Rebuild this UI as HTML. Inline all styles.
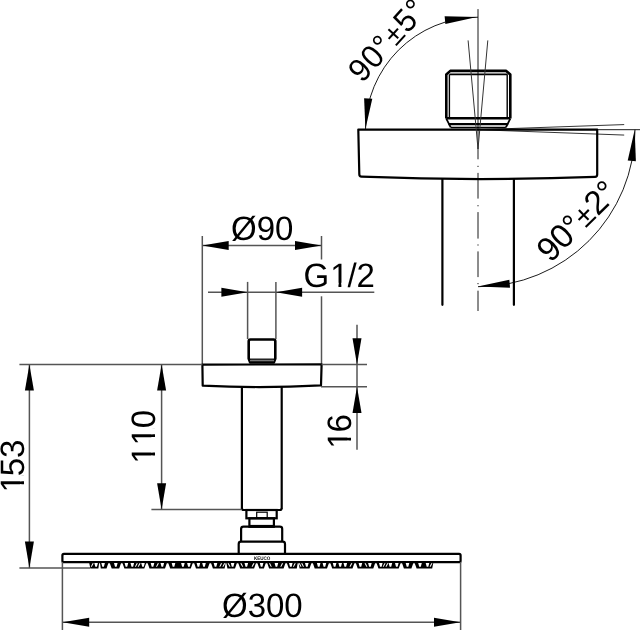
<!DOCTYPE html>
<html><head><meta charset="utf-8"><style>
html,body{margin:0;padding:0;background:#fff;width:640px;height:630px;overflow:hidden}
svg{display:block;will-change:transform}
text{font-family:"Liberation Sans",sans-serif;fill:#000;font-kerning:none;text-rendering:geometricPrecision}
</style></head><body>
<svg width="640" height="630" viewBox="0 0 640 630">
<defs><clipPath id="c1"><path d="M-2000,-2000 H2000 V2000 H-2000 Z M27.72,-3.77 H35.05 V1.50 H27.72 Z M37.97,-3.77 H43.92 V1.50 H37.97 Z" clip-rule="evenodd"/></clipPath><clipPath id="c2"><path d="M-2000,-2000 H2000 V2000 H-2000 Z M-24.37,-3.77 H-17.04 V1.50 H-24.37 Z M-14.12,-3.77 H-8.18 V1.50 H-14.12 Z" clip-rule="evenodd"/></clipPath><clipPath id="c3"><path d="M-2000,-2000 H2000 V2000 H-2000 Z M-25.48,-3.77 H-18.14 V1.50 H-25.48 Z M-15.23,-3.77 H-9.28 V1.50 H-15.23 Z M-7.12,-3.77 H0.21 V1.50 H-7.12 Z M3.13,-3.77 H9.07 V1.50 H3.13 Z" clip-rule="evenodd"/></clipPath><clipPath id="c4"><path d="M-2000,-2000 H2000 V2000 H-2000 Z M-15.30,-3.77 H-7.97 V1.50 H-15.30 Z M-5.05,-3.77 H0.89 V1.50 H-5.05 Z" clip-rule="evenodd"/></clipPath></defs>
<line x1="202.3" y1="236" x2="202.3" y2="364.6" stroke="#555" stroke-width="1.5" />
<line x1="321.5" y1="236" x2="321.5" y2="259.5" stroke="#555" stroke-width="1.5" />
<line x1="321.5" y1="296.3" x2="321.5" y2="364.6" stroke="#555" stroke-width="1.5" />
<line x1="202.3" y1="245.5" x2="321.5" y2="245.5" stroke="#555" stroke-width="1.5" />
<path d="M202.30,245.50 L228.70,241.00 L228.70,250.00 Z" fill="#000"/>
<path d="M321.50,245.50 L295.00,250.00 L295.00,241.00 Z" fill="#000"/>
<text transform="translate(231.00,240.00) scale(1,1.025)" x="0.00 25.67 44.02" y="0" font-size="33">Ø90</text>
<line x1="247.6" y1="281.9" x2="247.6" y2="339" stroke="#555" stroke-width="1.5" />
<line x1="275.9" y1="281.9" x2="275.9" y2="339" stroke="#555" stroke-width="1.5" />
<line x1="208" y1="292.2" x2="374.3" y2="292.2" stroke="#555" stroke-width="1.5" />
<path d="M247.60,292.20 L221.40,296.70 L221.40,287.70 Z" fill="#000"/>
<path d="M275.90,292.20 L302.10,287.70 L302.10,296.70 Z" fill="#000"/>
<text transform="translate(303.40,286.50) scale(1,1.025)" x="0.00 26.76 44.02 53.19" y="0" font-size="33" clip-path="url(#c1)">G1/2</text>
<path d="M248.7,358.6 L248.7,341.2 Q248.7,339.5 250.4,339.5 L273.6,339.5 Q275.3,339.5 275.3,341.2 L275.3,358.6 L273.9,362.4 L250.1,362.4 Z" fill="none" stroke="#000" stroke-width="2.6" stroke-linejoin="round"/>
<rect x="250" y="359.8" width="24" height="1.5" fill="#777"/>
<line x1="249.5" y1="359.2" x2="274.5" y2="359.2" stroke="#000" stroke-width="1.3" />
<path d="M202.4,364.6 L321.6,364.4 L321,385.4 Q262,388.5 202.7,385.7 Z" fill="none" stroke="#000" stroke-width="2.2" stroke-linejoin="round"/>
<line x1="241.9" y1="387" x2="241.9" y2="508.5" stroke="#000" stroke-width="2.2" />
<line x1="281.7" y1="387" x2="281.7" y2="508.5" stroke="#000" stroke-width="2.2" />
<path d="M241.9,508 Q241.9,510 243.7,510 L279.9,510 Q281.7,510 281.7,508" fill="none" stroke="#000" stroke-width="2.2"/>
<rect x="246.4" y="510" width="30.3" height="8.3" fill="none" stroke="#000" stroke-width="2.2"/>
<rect x="256.7" y="512.2" width="10.5" height="5.6" fill="none" stroke="#000" stroke-width="1.2"/>
<rect x="249.4" y="518.3" width="24.5" height="8.4" fill="none" stroke="#000" stroke-width="2.2"/>
<line x1="249.4" y1="526.2" x2="273.9" y2="526.2" stroke="#000" stroke-width="2.6" />
<path d="M241.1,541.7 L241.1,529 Q241.1,526.7 243.5,526.7 L279.8,526.7 Q282.2,526.7 282.2,529 L282.2,541.7" fill="none" stroke="#000" stroke-width="2.2"/>
<path d="M238.7,553.9 L238.7,544 Q238.7,541.7 241,541.7 L282.7,541.7 Q285,541.7 285,544 L285,553.9" fill="none" stroke="#000" stroke-width="2.2"/>
<rect x="62.4" y="553.9" width="398.2" height="8.3" rx="1.5" fill="none" stroke="#000" stroke-width="2.2"/>
<text transform="translate(253.9,560.3) scale(1,1.1)" x="0" y="0" font-size="4.7" font-weight="bold" textLength="16.4" lengthAdjust="spacingAndGlyphs">KEUCO</text>
<line x1="19.4" y1="364.6" x2="202.4" y2="364.6" stroke="#555" stroke-width="1.5" />
<line x1="19.4" y1="568.1" x2="90" y2="568.1" stroke="#555" stroke-width="1.5" />
<line x1="29.4" y1="364.6" x2="29.4" y2="568.1" stroke="#555" stroke-width="1.5" />
<path d="M29.40,364.60 L33.90,390.50 L24.90,390.50 Z" fill="#000"/>
<path d="M29.40,568.10 L24.90,541.40 L33.90,541.40 Z" fill="#000"/>
<text transform="translate(23.80,467.20) rotate(-90) scale(1,1.025)" x="-25.34 -9.18 9.18" y="0" font-size="33" clip-path="url(#c2)">153</text>
<line x1="151.4" y1="509.5" x2="241.7" y2="509.5" stroke="#555" stroke-width="1.5" />
<line x1="161.6" y1="364.6" x2="161.6" y2="509.5" stroke="#555" stroke-width="1.5" />
<path d="M161.60,364.60 L166.10,390.50 L157.10,390.50 Z" fill="#000"/>
<path d="M161.60,509.50 L157.10,483.20 L166.10,483.20 Z" fill="#000"/>
<text transform="translate(155.20,437.30) rotate(-90) scale(1,1.025)" x="-26.44 -8.09 9.18" y="0" font-size="33" clip-path="url(#c3)">110</text>
<line x1="321.6" y1="364.6" x2="367" y2="364.6" stroke="#555" stroke-width="1.5" />
<line x1="321" y1="386.7" x2="367" y2="386.7" stroke="#555" stroke-width="1.5" />
<line x1="357" y1="324.8" x2="357" y2="449.7" stroke="#555" stroke-width="1.5" />
<path d="M357.00,364.50 L352.50,338.30 L361.50,338.30 Z" fill="#000"/>
<path d="M357.00,386.70 L361.50,412.90 L352.50,412.90 Z" fill="#000"/>
<text transform="translate(351.30,432.60) rotate(-90) scale(1,1.025)" x="-16.27 0.00" y="0" font-size="33" clip-path="url(#c4)">16</text>
<line x1="62.4" y1="562" x2="62.4" y2="630" stroke="#555" stroke-width="1.5" />
<line x1="460.6" y1="562" x2="460.6" y2="630" stroke="#555" stroke-width="1.5" />
<line x1="62.4" y1="622.3" x2="460.6" y2="622.3" stroke="#555" stroke-width="1.5" />
<path d="M62.60,622.30 L89.20,617.80 L89.20,626.80 Z" fill="#000"/>
<path d="M460.40,622.30 L434.00,626.80 L434.00,617.80 Z" fill="#000"/>
<text transform="translate(222.00,616.70) scale(1,1.025)" x="0.00 25.67 44.02 62.37" y="0" font-size="33">Ø300</text>
<path d="M89.0,561.8 L99.3,561.8 L98.4,568.4 L90.3,568.4 Z M99.8,561.8 L108.8,561.8 L106.5,568.4 L100.8,568.4 Z M109.3,561.8 L121.5,561.8 L119.2,568.4 L111.7,568.4 Z M122.0,561.8 L146.7,561.8 L144.3,568.4 L124.4,568.4 Z M147.2,561.8 L167.3,561.8 L165.0,568.4 L149.5,568.4 Z M167.8,561.8 L193.2,561.8 L190.8,568.4 L170.2,568.4 Z M193.7,561.8 L210.1,561.8 L207.7,568.4 L196.0,568.4 Z M210.6,561.8 L225.8,561.8 L224.6,568.4 L212.9,568.4 Z M226.2,561.8 L237.3,561.8 L235.0,568.4 L227.4,568.4 Z M237.8,561.8 L256.4,561.8 L254.1,568.4 L240.2,568.4 Z M256.9,561.8 L266.2,561.8 L263.9,568.4 L259.3,568.4 Z M266.8,561.8 L285.9,561.8 L283.6,568.4 L269.1,568.4 Z M286.4,561.8 L297.9,561.8 L296.8,568.4 L288.8,568.4 Z M298.4,561.8 L311.9,561.8 L309.5,568.4 L299.6,568.4 Z M312.4,561.8 L329.4,561.8 L327.0,568.4 L314.7,568.4 Z M329.9,561.8 L354.9,561.8 L352.5,568.4 L332.2,568.4 Z M355.4,561.8 L375.6,561.8 L373.3,568.4 L357.7,568.4 Z M376.1,561.8 L401.1,561.8 L398.7,568.4 L378.5,568.4 Z M401.6,561.8 L413.8,561.8 L411.4,568.4 L403.9,568.4 Z M414.2,561.8 L433.5,561.8 L432.2,568.4 L416.6,568.4 Z " fill="#000"/>
<path d="M94.3,563.1 L97.9,563.1 L96.9,566.8 L95.3,566.8 Z M101.3,563.1 L104.9,563.1 L103.9,566.8 L102.3,566.8 Z M114.0,563.1 L117.6,563.1 L116.6,566.8 L115.0,566.8 Z M124.6,563.1 L128.2,563.1 L127.2,566.8 L125.6,566.8 Z M130.5,563.1 L134.1,563.1 L133.1,566.8 L131.5,566.8 Z M141.2,563.1 L144.8,563.1 L143.8,566.8 L142.2,566.8 Z M150.7,563.1 L154.3,563.1 L153.3,566.8 L151.7,566.8 Z M160.5,563.1 L164.1,563.1 L163.1,566.8 L161.5,566.8 Z M171.7,563.1 L175.3,563.1 L174.3,566.8 L172.7,566.8 Z M181.1,563.1 L184.7,563.1 L183.7,566.8 L182.1,566.8 Z M187.1,563.1 L190.7,563.1 L189.7,566.8 L188.1,566.8 Z M196.6,563.1 L200.2,563.1 L199.2,566.8 L197.6,566.8 Z M202.2,563.1 L205.8,563.1 L204.8,566.8 L203.2,566.8 Z M213.7,563.1 L217.3,563.1 L216.3,566.8 L214.7,566.8 Z M230.8,563.1 L234.4,563.1 L233.4,566.8 L231.8,566.8 Z M244.5,563.1 L248.1,563.1 L247.1,566.8 L245.5,566.8 Z M259.8,563.1 L263.4,563.1 L262.4,566.8 L260.8,566.8 Z M274.6,563.1 L278.2,563.1 L277.2,566.8 L275.6,566.8 Z M289.0,563.1 L292.6,563.1 L291.6,566.8 L290.0,566.8 Z M305.0,563.1 L308.6,563.1 L307.6,566.8 L306.0,566.8 Z M316.9,563.1 L320.5,563.1 L319.5,566.8 L317.9,566.8 Z M322.6,563.1 L326.2,563.1 L325.2,566.8 L323.6,566.8 Z M332.8,563.1 L336.4,563.1 L335.4,566.8 L333.8,566.8 Z M338.4,563.1 L342.0,563.1 L341.0,566.8 L339.4,566.8 Z M343.5,563.1 L347.1,563.1 L346.1,566.8 L344.5,566.8 Z M358.6,563.1 L362.2,563.1 L361.2,566.8 L359.6,566.8 Z M368.1,563.1 L371.7,563.1 L370.7,566.8 L369.1,566.8 Z M379.0,563.1 L382.6,563.1 L381.6,566.8 L380.0,566.8 Z M388.6,563.1 L392.2,563.1 L391.2,566.8 L389.6,566.8 Z M395.0,563.1 L398.6,563.1 L397.6,566.8 L396.0,566.8 Z M405.7,563.1 L409.3,563.1 L408.3,566.8 L406.7,566.8 Z M418.2,563.1 L421.8,563.1 L420.8,566.8 L419.2,566.8 Z M425.7,563.1 L429.3,563.1 L428.3,566.8 L426.7,566.8 Z M92.5,563.2 L93.8,563.2 L91.8,566.7 L90.8,566.7 Z M136.6,563.2 L137.9,563.2 L135.9,566.7 L134.9,566.7 Z M139.3,563.2 L140.7,563.2 L138.7,566.7 L137.7,566.7 Z M157.7,563.2 L159.0,563.2 L157.0,566.7 L156.0,566.7 Z M220.9,563.2 L222.2,563.2 L220.3,566.7 L219.3,566.7 Z M224.1,563.2 L225.4,563.2 L223.4,566.7 L222.4,566.7 Z M227.5,563.2 L228.8,563.2 L230.5,566.7 L229.5,566.7 Z M240.2,563.2 L241.6,563.2 L243.2,566.7 L242.2,566.7 Z M253.2,563.2 L254.6,563.2 L252.6,566.7 L251.6,566.7 Z M268.9,563.2 L270.1,563.2 L271.8,566.7 L270.8,566.7 Z M281.9,563.2 L283.2,563.2 L281.3,566.7 L280.3,566.7 Z M294.6,563.2 L295.8,563.2 L293.9,566.7 L292.9,566.7 Z M298.6,563.2 L299.9,563.2 L301.5,566.7 L300.5,566.7 Z M301.1,563.2 L302.4,563.2 L304.0,566.7 L303.0,566.7 Z M351.1,563.2 L352.4,563.2 L350.5,566.7 L349.5,566.7 Z M364.5,563.2 L365.8,563.2 L367.4,566.7 L366.4,566.7 Z M384.4,563.2 L385.6,563.2 L383.7,566.7 L382.7,566.7 Z M387.1,563.2 L388.4,563.2 L386.5,566.7 L385.5,566.7 Z M431.2,563.2 L432.5,563.2 L430.6,566.7 L429.6,566.7 Z " fill="#fff"/>
<line x1="478.0" y1="9.1" x2="478.0" y2="159.3" stroke="#000" stroke-width="0.9" />
<line x1="478.0" y1="172.9" x2="478.0" y2="198.6" stroke="#000" stroke-width="0.9" />
<line x1="478.0" y1="212.1" x2="478.0" y2="238.6" stroke="#000" stroke-width="0.9" />
<line x1="478.0" y1="251.4" x2="478.0" y2="277.1" stroke="#000" stroke-width="0.9" />
<line x1="478.0" y1="290.7" x2="478.0" y2="311" stroke="#000" stroke-width="0.9" />
<line x1="478.0" y1="165.8" x2="478.0" y2="167.0" stroke="#000" stroke-width="0.9" />
<line x1="478.0" y1="205.1" x2="478.0" y2="206.29999999999998" stroke="#000" stroke-width="0.9" />
<line x1="478.0" y1="244.4" x2="478.0" y2="245.6" stroke="#000" stroke-width="0.9" />
<line x1="478.0" y1="283.0" x2="478.0" y2="284.20000000000005" stroke="#000" stroke-width="0.9" />
<path d="M358.3,129.6 L597.2,129.7 L597.2,174.5 Q597.2,176.8 595,176.85 Q477.9,181.3 361.5,176.65 Q359.3,176.6 359.3,174.3 Z" fill="none" stroke="#000" stroke-width="2.2" stroke-linejoin="round"/>
<line x1="442.4" y1="179" x2="442.4" y2="304.8" stroke="#000" stroke-width="2.2" stroke-linecap="round"/>
<line x1="513.9" y1="179" x2="513.9" y2="304.8" stroke="#000" stroke-width="2.2" stroke-linecap="round"/>
<path d="M446.3,118.6 L446.3,74.5 L450.3,70.9 L506.2,70.9 L510.3,74.5 L510.3,118.6" fill="none" stroke="#000" stroke-width="2.6" stroke-linejoin="round"/>
<path d="M446.3,118.6 L450.7,127.3 M510.3,118.6 L505.9,127.3" fill="none" stroke="#000" stroke-width="1.8"/>
<line x1="449.5" y1="74.3" x2="507.2" y2="74.3" stroke="#000" stroke-width="1.8" />
<line x1="449.4" y1="74.3" x2="449.4" y2="118.6" stroke="#000" stroke-width="1.4" />
<line x1="507.2" y1="74.3" x2="507.2" y2="118.6" stroke="#000" stroke-width="1.4" />
<line x1="446.3" y1="118.3" x2="510.3" y2="118.3" stroke="#000" stroke-width="2.4" />
<line x1="448.5" y1="124.1" x2="508.2" y2="124.1" stroke="#000" stroke-width="2.4" />
<line x1="450.7" y1="127.4" x2="505.9" y2="127.4" stroke="#000" stroke-width="1.5" />
<line x1="468.1" y1="40.4" x2="478.0" y2="149" stroke="#333" stroke-width="1.0" />
<line x1="487.8" y1="40.4" x2="478.0" y2="149" stroke="#333" stroke-width="1.0" />
<line x1="478.0" y1="129.7" x2="624.2" y2="124.5910914233573" stroke="#000" stroke-width="0.8" />
<line x1="478.0" y1="129.7" x2="624.2" y2="135.06435400547483" stroke="#000" stroke-width="0.8" />
<line x1="597" y1="129.7" x2="640" y2="129.7" stroke="#000" stroke-width="0.9" />
<path d="M365.5,129.7 A112.5,112.5 0 0 1 478.0,17.19999999999999" fill="none" stroke="#000" stroke-width="0.9"/>
<path d="M635.0,129.7 A157,157 0 0 1 478.0,286.7" fill="none" stroke="#000" stroke-width="0.9"/>
<path d="M477.00,17.10 L445.36,23.98 L444.64,16.22 Z" fill="#000"/>
<path d="M365.40,129.20 L364.12,98.13 L372.28,98.87 Z" fill="#000"/>
<path d="M634.70,129.70 L635.88,161.18 L627.72,160.42 Z" fill="#000"/>
<path d="M477.70,286.40 L509.36,279.71 L510.04,287.69 Z" fill="#000"/>
<text transform="translate(362.25,83.80) rotate(-47.7) scale(1,1.025)" x="0.00 18.07 36.14 50.11 67.12 85.19" y="0" font-size="31.5">90°<tspan font-size="28.5">±</tspan>5°</text>
<text transform="translate(550.40,263.50) rotate(-44.7) scale(1,1.025)" x="0.00 18.00 36.01 49.81 66.61 84.62" y="0" font-size="33">90°<tspan font-size="29.5">±</tspan>2°</text>
</svg>
</body></html>
